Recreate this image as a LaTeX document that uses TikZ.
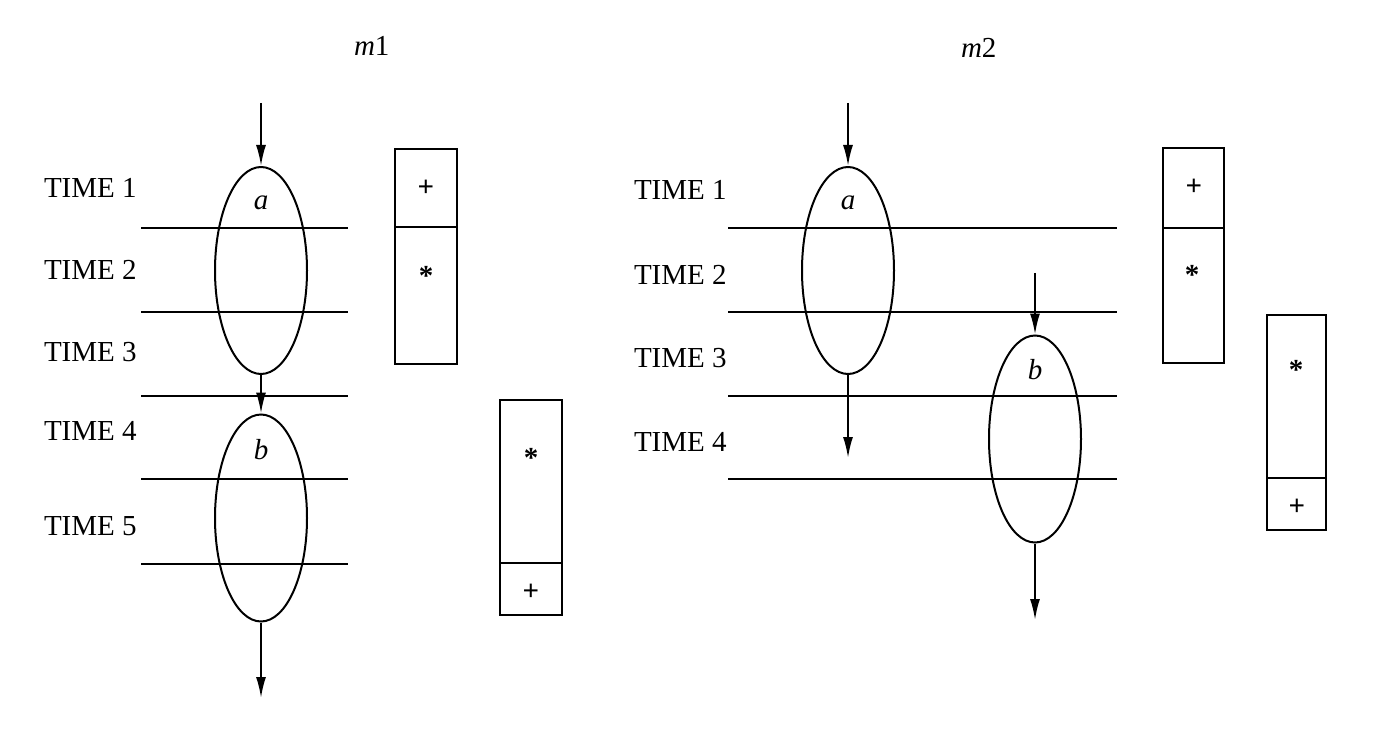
\documentclass[tikz,border=0pt]{standalone}
\usepackage{fontspec}
\setmainfont{Liberation Serif}
\usetikzlibrary{arrows.meta,shapes.geometric}
\begin{document}
\begin{tikzpicture}[x=1pt,y=-1pt,line width=2pt,
  op/.style={draw,ellipse,minimum width=92pt,minimum height=207pt,inner sep=0pt},
  flow/.style={-{Latex[length=21pt,width=10pt]}},
  cell/.style={draw,rectangle,inner sep=0pt},
  lbl/.style={font=\fontsize{29}{34}\selectfont,inner sep=0pt},
  tlbl/.style={lbl,anchor=west},
  sym/.style={font=\fontsize{29}{34}\selectfont\bfseries,inner sep=0pt},
  slot/.style={line width=2pt}]
\path[use as bounding box,fill=white] (0,0) rectangle (1377,730);

% ---------------- m1 ----------------
\node[lbl,anchor=base west] (m1) at (353,56) {\textit{m}1};
\node[tlbl] (t11) at (43,188) {TIME 1};
\node[tlbl] (t12) at (43,270) {TIME 2};
\node[tlbl] (t13) at (43,352) {TIME 3};
\node[tlbl] (t14) at (43,431) {TIME 4};
\node[tlbl] (t15) at (43,526) {TIME 5};
\foreach \yy in {228,312,396,479,564} \draw[slot] (141,\yy) -- (348,\yy);

\node[op] (a1) at (261,270.5) {};
\node[op] (b1) at (261,518) {};
\node[lbl] (a1t) at (261,203) {\textit{a}};
\node[lbl] (b1t) at (261,450) {\textit{b}};
\coordinate (m1in) at (261,103);
\coordinate (m1out) at (261,698);
\draw[flow] (m1in) -- (a1.north);
\draw[flow] (a1.south) -- (b1.north);
\draw[flow] (b1.south) -- (m1out);

\node[cell,minimum width=62pt,minimum height=78pt] (l1p) at (426,188) {};
\node[cell,minimum width=62pt,minimum height=137pt] (l1m) at (426,295.5) {};
\node[sym] (l1ps) at (426,188) {+};
\node[sym] (l1ms) at (426,276) {*};
\node[cell,minimum width=62pt,minimum height=163pt] (l2m) at (531,481.5) {};
\node[cell,minimum width=62pt,minimum height=52pt] (l2p) at (531,589) {};
\node[sym] (l2ms) at (531,458) {*};
\node[sym] (l2ps) at (531,592) {+};

% ---------------- m2 ----------------
\node[lbl,anchor=base west] (m2) at (960,58) {\textit{m}2};
\node[tlbl] (t21) at (633,190) {TIME 1};
\node[tlbl] (t22) at (633,275) {TIME 2};
\node[tlbl] (t23) at (633,358) {TIME 3};
\node[tlbl] (t24) at (633,442) {TIME 4};
\foreach \yy in {228,312,396,479} \draw[slot] (728,\yy) -- (1117,\yy);

\node[op] (a2) at (848,270.5) {};
\node[op] (b2) at (1035,439) {};
\node[lbl] (a2t) at (848,203) {\textit{a}};
\node[lbl] (b2t) at (1035,370) {\textit{b}};
\coordinate (a2in) at (848,103);
\coordinate (a2out) at (848,458);
\coordinate (b2in) at (1035,273);
\coordinate (b2out) at (1035,620);
\draw[flow] (a2in) -- (a2.north);
\draw[flow] (a2.south) -- (a2out);
\draw[flow] (b2in) -- (b2.north);
\draw[flow] (b2.south) -- (b2out);

\node[cell,minimum width=61pt,minimum height=80pt] (r1p) at (1193.5,188) {};
\node[cell,minimum width=61pt,minimum height=135pt] (r1m) at (1193.5,295.5) {};
\node[sym] (r1ps) at (1194,187) {+};
\node[sym] (r1ms) at (1192,275) {*};
\node[cell,minimum width=59pt,minimum height=163pt] (r2m) at (1296.5,396.5) {};
\node[cell,minimum width=59pt,minimum height=52pt] (r2p) at (1296.5,504) {};
\node[sym] (r2ms) at (1296,370) {*};
\node[sym] (r2ps) at (1297,507) {+};
\end{tikzpicture}
\end{document}
